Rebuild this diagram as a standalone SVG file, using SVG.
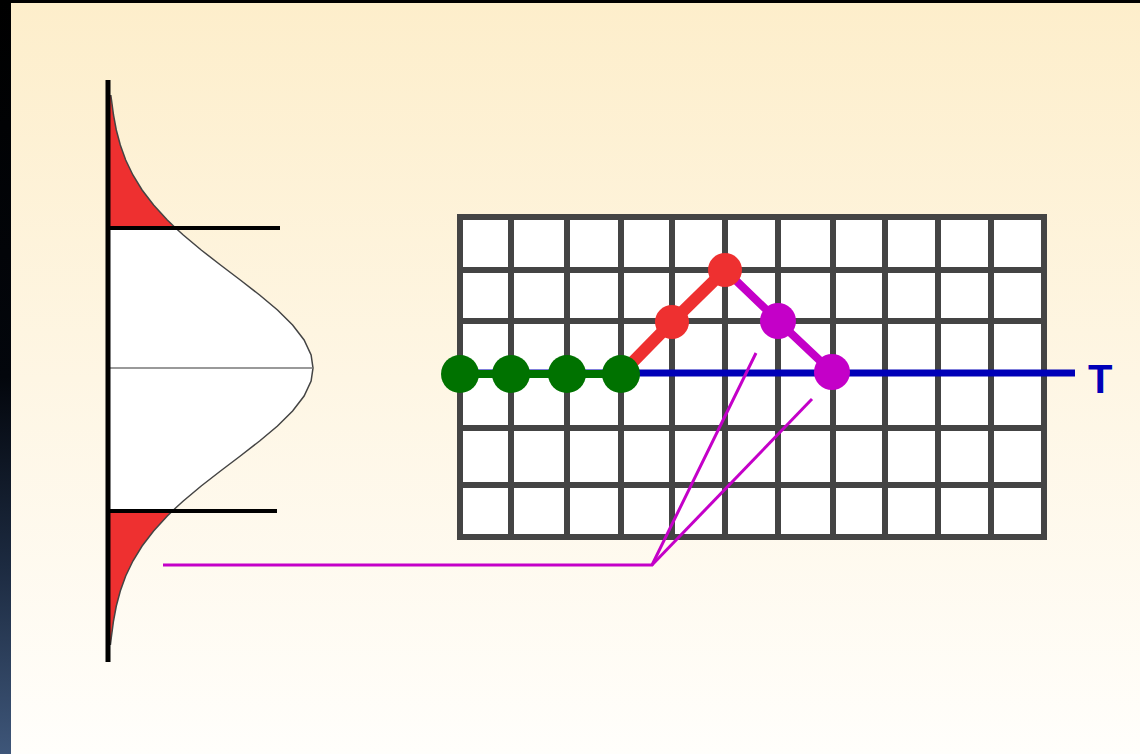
<svg xmlns="http://www.w3.org/2000/svg" width="1140" height="754" viewBox="0 0 1140 754">
<defs>
<linearGradient id="bg" x1="0" y1="0" x2="0" y2="1">
<stop offset="0" stop-color="#fdeecb"/>
<stop offset="0.5" stop-color="#fef6e4"/>
<stop offset="1" stop-color="#fffefb"/>
</linearGradient>
<linearGradient id="strip" x1="0" y1="0" x2="0" y2="1">
<stop offset="0" stop-color="#000000"/>
<stop offset="0.5" stop-color="#03060c"/>
<stop offset="0.75" stop-color="#1c2a40"/>
<stop offset="1" stop-color="#3e5679"/>
</linearGradient>
<style>
.grid{stroke:#444;stroke-width:6;fill:none}
.axis{stroke:#000;stroke-width:5;fill:none}
.bar{stroke:#000;stroke-width:4;fill:none}
.curve{stroke:#444;stroke-width:1.5;fill:none}
.green{fill:#007200}
.red{fill:#ee3030}
.mag{fill:#c400c8}
.thin{stroke:#c400c8;stroke-width:3;fill:none}
</style>
</defs>
<rect x="0" y="0" width="1140" height="754" fill="#000"/>
<rect x="11" y="3" width="1129" height="751" fill="url(#bg)"/>
<rect x="0" y="0" width="11" height="754" fill="url(#strip)"/>

<g id="distribution">
<path fill="#fff" d="M108,228 L175.6,228 L183.3,235 L201.2,250 L220.5,265 L240.3,280 L259.6,295 L277.5,310 L292.6,325 L304.1,340 L311.1,355 L313,368 L311.1,381 L304.1,396 L292.6,411 L277.5,426 L259.6,441 L240.3,456 L220.5,471 L201.2,486 L183.3,501 L175.6,508 L172.5,511 L108,511 Z"/>
<path class="red" d="M108,95 L110.8,95 L111.5,100 L113.5,115 L116.3,130 L120.3,145 L125.7,160 L132.9,175 L142.1,190 L153.6,205 L167.3,220 L175.6,228 L108,228 Z"/>
<path class="red" d="M108,511 L172.5,511 L167.3,516 L153.6,531 L142.1,546 L132.9,561 L125.7,576 L120.3,591 L116.3,606 L113.5,621 L111.5,636 L110.4,645 L108,645 Z"/>
<path class="curve" d="M110.8,95 L111.5,100 L113.5,115 L116.3,130 L120.3,145 L125.7,160 L132.9,175 L142.1,190 L153.6,205 L167.3,220 L175.6,228 L183.3,235 L201.2,250 L220.5,265 L240.3,280 L259.6,295 L277.5,310 L292.6,325 L304.1,340 L311.1,355 L313,368 L311.1,381 L304.1,396 L292.6,411 L277.5,426 L259.6,441 L240.3,456 L220.5,471 L201.2,486 L183.3,501 L175.6,508 L172.5,511 L167.3,516 L153.6,531 L142.1,546 L132.9,561 L125.7,576 L120.3,591 L116.3,606 L113.5,621 L111.5,636 L110.4,645"/>
<line x1="108" y1="368" x2="313" y2="368" stroke="#777" stroke-width="1.5"/>
<line class="bar" x1="108" y1="228" x2="280" y2="228"/>
<line class="bar" x1="108" y1="511" x2="277" y2="511"/>
<line class="axis" x1="108" y1="80" x2="108" y2="662"/>
</g>

<g id="grid">
<rect x="460" y="217" width="584" height="320" fill="#fff"/>
<path class="grid" d="M460,214V540 M511,214V540 M567,214V540 M621,214V540 M672,214V540 M725,214V540 M778,214V540 M833,214V540 M885,214V540 M938,214V540 M991,214V540 M1044,214V540 M457,217H1047 M457,270H1047 M457,321H1047 M457,373H1047 M457,428H1047 M457,485H1047 M457,537H1047"/>
</g>

<g id="connectors">
<line x1="460" y1="373" x2="1075" y2="373" stroke="#0000b8" stroke-width="7"/>
<line x1="460" y1="374" x2="621" y2="374" stroke="#007200" stroke-width="8"/>
<polyline points="621,374 672,322 725,270" fill="none" stroke="#ee3030" stroke-width="12"/>
<polyline points="725,270 778,321 832,372" fill="none" stroke="#c400c8" stroke-width="8"/>
<polyline class="thin" points="163,565 652,565 756,353"/>
<line class="thin" x1="652" y1="565" x2="812" y2="399"/>
</g>

<g id="green-path">
<circle class="green" cx="460" cy="374" r="19"/>
<circle class="green" cx="511" cy="374" r="19"/>
<circle class="green" cx="567" cy="374" r="19"/>
<circle class="green" cx="621" cy="374" r="19"/>
</g>
<g id="red-path">
<circle class="red" cx="672" cy="322" r="17"/>
<circle class="red" cx="725" cy="270" r="17"/>
</g>
<g id="magenta-path">
<circle class="mag" cx="778" cy="321" r="18"/>
<circle class="mag" cx="832" cy="372" r="18"/>
</g>
<g id="label-T">
<text x="1088" y="393" font-family="Liberation Sans, Arial, sans-serif" font-weight="bold" font-size="40" fill="#0000b8">T</text>
</g>
</svg>
